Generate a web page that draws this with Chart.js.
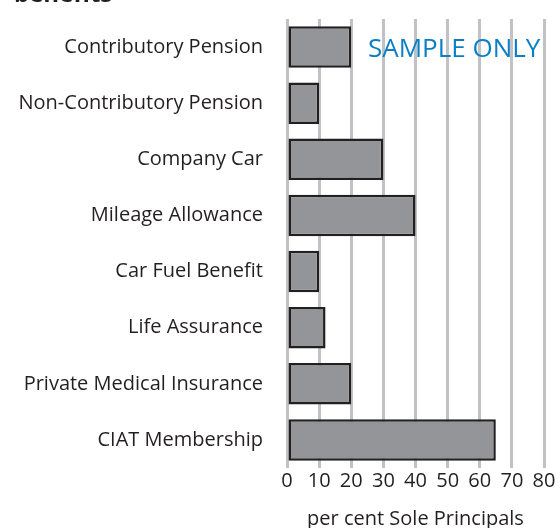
<!DOCTYPE html>
<html>
<head>
<meta charset="utf-8">
<script src="https://cdn.jsdelivr.net/npm/chart.js@4/dist/chart.umd.min.js"></script>
<style>
  html, body { margin: 0; padding: 0; background: #fff; overflow: hidden; }
  #wrap { position: relative; width: 560px; height: 528px; }
  #heading { position: absolute; left: 14px; top: -24px; font: bold 24px "Open Sans", sans-serif; color: #231f20; margin: 0; }
</style>
</head>
<body>
<div id="wrap">
  <canvas id="chart1" width="560" height="528"></canvas>
  <div id="heading">benefits</div>
</div>
<script>
const categories = [
    'Contributory Pension',
    'Non-Contributory Pension',
    'Company Car',
    'Mileage Allowance',
    'Car Fuel Benefit',
    'Life Assurance',
    'Private Medical Insurance',
    'CIAT Membership',
];
const percentValues = [20, 10, 30, 40, 10, 12, 20, 65];
const xTicks = [0, 10, 20, 30, 40, 50, 60, 70, 80];
const axisTitle = 'per cent Sole Principals';
const watermark = 'SAMPLE ONLY';

// blue "SAMPLE ONLY" stamp in the top right
const watermarkPlugin = {
    id: 'watermark',
    afterDraw(chart) {
        const ctx = chart.ctx;
        ctx.save();
        ctx.font = '26px "Open Sans", sans-serif';
        ctx.fillStyle = '#0b7fc3';
        ctx.textAlign = 'left';
        ctx.textBaseline = 'middle';
        ctx.fillText(watermark, 368, 50);
        ctx.restore();
    },
};

new Chart(document.getElementById('chart1'), {
    type: 'bar',
    data: {
        labels: categories,
        datasets: [
            {
                label: 'per cent',
                data: percentValues,
                backgroundColor: '#939598',
                borderColor: '#231f20',
                borderWidth: 2.5,
                borderSkipped: false,
                barPercentage: 0.74,
                categoryPercentage: 1.0,
            },
        ],
    },
    options: {
        indexAxis: 'y',
        responsive: false,
        animation: false,
        layout: {
            padding: { top: 19, right: 16, left: 0, bottom: 0 },
        },
        plugins: {
            legend: { display: false },
            tooltip: { enabled: false },
        },
        scales: {
            x: {
                min: 0,
                max: 80,
                afterBuildTicks: (axis) => {
                    axis.ticks = xTicks.map(v => ({ value: v }));
                },
                grid: {
                    color: '#c2c2c6',
                    lineWidth: 3,
                    drawTicks: false,
                },
                border: { display: false },
                ticks: {
                    color: '#231f20',
                    padding: 1,
                    maxRotation: 0,
                    font: { family: 'Open Sans', size: 20 },
                },
                title: {
                    display: true,
                    text: axisTitle,
                    color: '#231f20',
                    font: { family: 'Open Sans', size: 20 },
                    padding: { top: 13, bottom: -3 },
                },
                afterFit: (axis) => { axis.height = 60; },
            },
            y: {
                grid: { display: false, drawTicks: false },
                border: { display: false },
                ticks: {
                    color: '#231f20',
                    padding: 24,
                    font: { family: 'Open Sans', size: 20 },
                },
                afterFit: (axis) => {
                    axis.width = 287;
                    axis.paddingTop = 0;
                    axis.paddingBottom = 0;
                },
            },
        },
    },
    plugins: [watermarkPlugin],
});
</script>
</body>
</html>
